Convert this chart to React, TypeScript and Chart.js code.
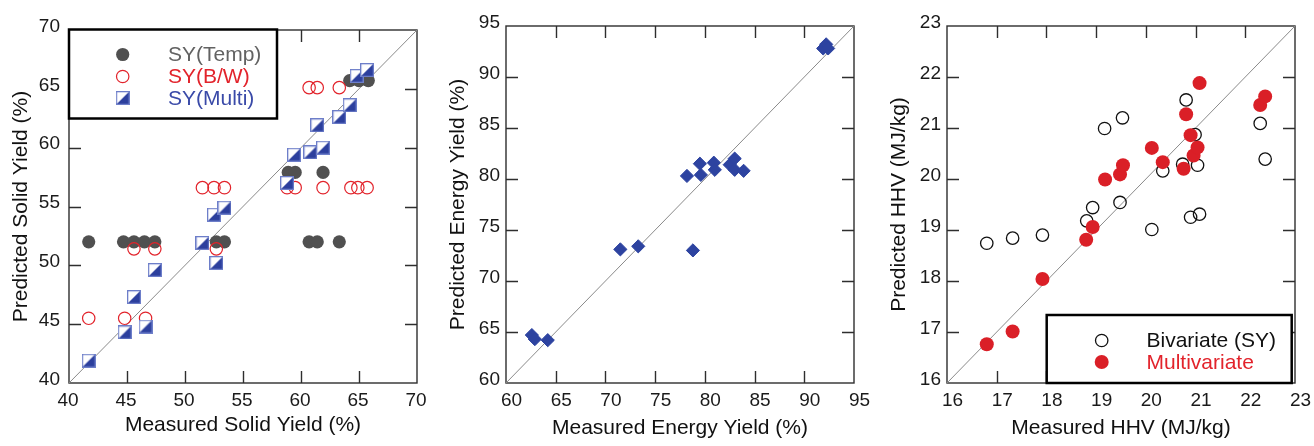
import { useEffect, useRef } from "react";
import { Chart, registerables } from "chart.js";

Chart.register(...registerables);

const FONT = "'Liberation Sans', Arial, Helvetica, sans-serif";

// Solid yield (%): measured vs predicted, three prediction models
const syTempMeasured = [41.7, 44.7, 45.6, 46.5, 47.4, 52.7, 53.4, 58.9, 59.5, 61.9, 60.7, 61.4, 63.3, 64.2, 65.0, 65.8];
const syTempPredicted = [52.0, 52.0, 52.0, 52.0, 52.0, 52.0, 52.0, 57.9, 57.9, 57.9, 52.0, 52.0, 52.0, 65.7, 65.7, 65.7];

const syBWMeasured = [41.7, 44.8, 46.6, 45.6, 47.4, 52.7, 51.5, 52.5, 53.4, 58.8, 59.5, 61.9, 64.3, 64.9, 65.7, 60.7, 61.4, 63.3];
const syBWPredicted = [45.5, 45.5, 45.5, 51.4, 51.4, 51.4, 56.6, 56.6, 56.6, 56.6, 56.6, 56.6, 56.6, 56.6, 56.6, 65.1, 65.1, 65.1];

const syMultiMeasured = [41.7, 44.8, 46.6, 45.6, 47.4, 51.5, 52.5, 53.4, 52.7, 58.8, 59.4, 60.8, 61.9, 61.4, 63.3, 64.2, 64.8, 65.7];
const syMultiPredicted = [41.9, 44.3, 44.8, 47.3, 49.6, 51.9, 54.3, 54.9, 50.2, 57.0, 59.4, 59.6, 60.0, 61.9, 62.6, 63.6, 66.1, 66.6];

// Energy yield (%)
const eyMeasured = [62.6, 62.9, 64.2, 71.5, 73.3, 78.8, 78.2, 79.5, 79.6, 80.9, 81.0, 82.5, 83.0, 83.0, 83.9, 91.9, 92.2, 92.4];
const eyPredicted = [64.7, 64.3, 64.2, 73.1, 73.4, 73.0, 80.3, 81.5, 80.4, 81.6, 80.9, 81.4, 82.0, 80.9, 80.8, 92.8, 93.2, 92.8];

// HHV (MJ/kg)
const hhvBivMeasured = [16.8, 17.32, 17.92, 18.81, 18.93, 19.17, 19.53, 19.48, 20.12, 20.34, 20.81, 20.74, 20.99, 21.04, 20.9, 21.08, 22.3, 22.4];
const hhvBivPredicted = [18.74, 18.84, 18.9, 19.18, 19.44, 20.99, 21.2, 19.54, 19.01, 20.16, 21.55, 20.29, 20.87, 20.27, 19.25, 19.31, 21.09, 20.39];

const hhvMultiMeasured = [16.8, 17.32, 17.92, 18.8, 18.93, 19.18, 19.48, 19.54, 20.12, 20.34, 20.76, 20.81, 20.9, 20.96, 21.04, 21.08, 22.3, 22.4];
const hhvMultiPredicted = [16.76, 17.01, 18.04, 18.81, 19.06, 19.99, 20.09, 20.27, 20.61, 20.33, 20.2, 21.27, 20.86, 20.46, 20.62, 21.88, 21.45, 21.62];

// Axis ranges [min, max] and tick step
const syAxis = [40, 70];
const syStep = 5;
const eyAxis = [60, 95];
const eyStep = 5;
const hhvAxis = [16, 23];
const hhvStep = 1;

const GREY = "#505050";
const RED = "#e2232b";
const RED_FILL = "#da1f27";
const BLUE = "#2c3f9d";
const BLUE_EDGE = "#6d7ec9";
const LEGEND_GREY = "#626262";
const LEGEND_BLUE = "#3a4aa8";

const zip = (xs: number[], ys: number[]) => xs.map((x, i) => ({ x, y: ys[i] }));

let squareMarker: HTMLCanvasElement | null = null;
function halfSquare(): HTMLCanvasElement {
  if (squareMarker) return squareMarker;
  const s = 14;
  const c = document.createElement("canvas");
  c.width = s;
  c.height = s;
  const g = c.getContext("2d")!;
  g.fillStyle = "#ffffff";
  g.fillRect(0, 0, s, s);
  g.fillStyle = BLUE;
  g.beginPath();
  g.moveTo(0.5, s - 0.5);
  g.lineTo(s - 0.5, 0.5);
  g.lineTo(s - 0.5, s - 0.5);
  g.closePath();
  g.fill();
  g.strokeStyle = BLUE_EDGE;
  g.lineWidth = 1.3;
  g.strokeRect(0.65, 0.65, s - 1.3, s - 1.3);
  squareMarker = c;
  return c;
}

function diagonal(axis: number[]) {
  return {
    label: "1:1",
    data: [
      { x: axis[0], y: axis[0] },
      { x: axis[1], y: axis[1] },
    ],
    showLine: true,
    borderColor: "#8a8a8a",
    borderWidth: 1,
    pointRadius: 0,
    order: 10,
  };
}

type Marker = (ctx: CanvasRenderingContext2D, x: number, y: number) => void;

const dotMarker = (color: string, r: number): Marker => (ctx, x, y) => {
  ctx.beginPath();
  ctx.arc(x, y, r, 0, Math.PI * 2);
  ctx.fillStyle = color;
  ctx.fill();
};
const ringMarker = (color: string, r: number, w: number): Marker => (ctx, x, y) => {
  ctx.beginPath();
  ctx.arc(x, y, r, 0, Math.PI * 2);
  ctx.strokeStyle = color;
  ctx.lineWidth = w;
  ctx.stroke();
};
const squareLegendMarker: Marker = (ctx, x, y) => {
  const img = halfSquare();
  ctx.drawImage(img, x - img.width / 2, y - img.height / 2);
};

interface LegendSpec {
  box: [number, number, number, number];
  markerX: number;
  textX: number;
  rows: number[];
  items: { label: string; color: string; marker: Marker }[];
}

interface PanelSpec {
  left: number;
  width: number;
  axis: number[];
  step: number;
  xTitle: string;
  yTitle: string;
  yAxisWidth: number;
  padTop: number;
  padRight: number;
  yTickPad: number;
  xLabelShift: number;
  yTitlePad: number;
  xTitlePad: number;
  datasets: () => any[];
  legend?: LegendSpec;
}

const frameTicks = {
  id: "frameTicks",
  beforeDatasetsDraw(chart: any) {
    const { ctx, chartArea } = chart;
    const { left, right, top, bottom } = chartArea;
    const xs = chart.scales.x;
    const ys = chart.scales.y;
    const len = 12;
    ctx.save();
    ctx.strokeStyle = "#2e2e2e";
    ctx.lineWidth = 1.4;
    ctx.beginPath();
    xs.ticks.forEach((t: any) => {
      if (t.value <= xs.min || t.value >= xs.max) return;
      const px = Math.round(xs.getPixelForValue(t.value)) + 0.5;
      ctx.moveTo(px, bottom);
      ctx.lineTo(px, bottom - len);
      ctx.moveTo(px, top);
      ctx.lineTo(px, top + len);
    });
    ys.ticks.forEach((t: any) => {
      if (t.value <= ys.min || t.value >= ys.max) return;
      const py = Math.round(ys.getPixelForValue(t.value)) + 0.5;
      ctx.moveTo(left, py);
      ctx.lineTo(left + len, py);
      ctx.moveTo(right, py);
      ctx.lineTo(right - len, py);
    });
    ctx.stroke();
    ctx.strokeRect(left, top, right - left, bottom - top);
    ctx.restore();
  },
};

function legendBox(spec?: LegendSpec) {
  return {
    id: "legendBox",
    afterDraw(chart: any) {
      if (!spec) return;
      const { ctx } = chart;
      const [bx, by, bw, bh] = spec.box;
      ctx.save();
      ctx.fillStyle = "#ffffff";
      ctx.fillRect(bx, by, bw, bh);
      ctx.strokeStyle = "#000000";
      ctx.lineWidth = 2.5;
      ctx.strokeRect(bx, by, bw, bh);
      ctx.font = `21px ${FONT}`;
      ctx.textBaseline = "middle";
      ctx.textAlign = "left";
      spec.items.forEach((item, i) => {
        const y = spec.rows[i];
        item.marker(ctx, spec.markerX, y);
        ctx.fillStyle = item.color;
        ctx.fillText(item.label, spec.textX, y + 1);
      });
      ctx.restore();
    },
  };
}

const panels: PanelSpec[] = [
  {
    left: 0,
    width: 440,
    axis: syAxis,
    step: syStep,
    xTitle: "Measured Solid Yield (%)",
    yTitle: "Predicted Solid Yield (%)",
    yAxisWidth: 69,
    padTop: 30,
    padRight: 23,
    yTickPad: 9,
    xLabelShift: -1,
    yTitlePad: 9,
    xTitlePad: 8,
    datasets: () => [
      {
        label: "SY(Temp)",
        data: zip(syTempMeasured, syTempPredicted),
        pointStyle: "circle",
        pointRadius: 6.6,
        backgroundColor: GREY,
        borderColor: GREY,
        borderWidth: 0,
        order: 3,
      },
      {
        label: "SY(B/W)",
        data: zip(syBWMeasured, syBWPredicted),
        pointStyle: "circle",
        pointRadius: 6.2,
        backgroundColor: "rgba(0,0,0,0)",
        borderColor: RED,
        borderWidth: 1.2,
        order: 2,
      },
      {
        label: "SY(Multi)",
        data: zip(syMultiMeasured, syMultiPredicted),
        pointStyle: halfSquare(),
        pointRadius: 6,
        order: 1,
      },
      diagonal(syAxis),
    ],
    legend: {
      box: [69, 29.5, 208, 89],
      markerX: 122.7,
      textX: 168,
      rows: [54.5, 76.5, 98],
      items: [
        { label: "SY(Temp)", color: LEGEND_GREY, marker: dotMarker(GREY, 6.6) },
        { label: "SY(B/W)", color: RED, marker: ringMarker(RED, 6.2, 1.2) },
        { label: "SY(Multi)", color: LEGEND_BLUE, marker: squareLegendMarker },
      ],
    },
  },
  {
    left: 440,
    width: 440,
    axis: eyAxis,
    step: eyStep,
    xTitle: "Measured Energy Yield (%)",
    yTitle: "Predicted Energy Yield (%)",
    yAxisWidth: 66,
    padTop: 26,
    padRight: 26,
    yTickPad: 6,
    xLabelShift: 5.5,
    yTitlePad: 6,
    xTitlePad: 5.5,
    datasets: () => [
      {
        label: "Energy yield",
        data: zip(eyMeasured, eyPredicted),
        pointStyle: "rectRot",
        pointRadius: 6.6,
        backgroundColor: "#2d43a0",
        borderColor: "#2d43a0",
        borderWidth: 1,
        order: 1,
      },
      diagonal(eyAxis),
    ],
  },
  {
    left: 880,
    width: 434,
    axis: hhvAxis,
    step: hhvStep,
    xTitle: "Measured HHV (MJ/kg)",
    yTitle: "Predicted HHV (MJ/kg)",
    yAxisWidth: 67,
    padTop: 26,
    padRight: 19,
    yTickPad: 6,
    xLabelShift: 5.5,
    yTitlePad: 6.5,
    xTitlePad: 5.5,
    datasets: () => [
      {
        label: "Bivariate (SY)",
        data: zip(hhvBivMeasured, hhvBivPredicted),
        pointStyle: "circle",
        pointRadius: 6.2,
        backgroundColor: "rgba(0,0,0,0)",
        borderColor: "#111111",
        borderWidth: 1.3,
        order: 2,
      },
      {
        label: "Multivariate",
        data: zip(hhvMultiMeasured, hhvMultiPredicted),
        pointStyle: "circle",
        pointRadius: 7,
        backgroundColor: RED_FILL,
        borderColor: RED_FILL,
        borderWidth: 0,
        order: 1,
      },
      diagonal(hhvAxis),
    ],
    legend: {
      box: [166.7, 315, 245, 68],
      markerX: 221.7,
      textX: 266.5,
      rows: [340.5, 362],
      items: [
        { label: "Bivariate (SY)", color: "#111111", marker: ringMarker("#111111", 6.2, 1.3) },
        { label: "Multivariate", color: RED, marker: dotMarker(RED_FILL, 7) },
      ],
    },
  },
];

function Panel({ spec }: { spec: PanelSpec }) {
  const ref = useRef<HTMLCanvasElement>(null);
  useEffect(() => {
    const canvas = ref.current;
    if (!canvas) return;
    const tickFont = { family: FONT, size: 19 };
    const titleFont = { family: FONT, size: 21 };
    const chart = new Chart(canvas, {
      type: "scatter",
      data: { datasets: spec.datasets() },
      options: {
        animation: false,
        responsive: false,
        events: [],
        layout: { padding: { top: spec.padTop, right: spec.padRight, left: 0, bottom: 0 } },
        plugins: { legend: { display: false }, tooltip: { enabled: false } },
        scales: {
          x: {
            type: "linear",
            min: spec.axis[0],
            max: spec.axis[1],
            ticks: {
              stepSize: spec.step,
              font: tickFont,
              color: "#1a1a1a",
              padding: 6,
              maxRotation: 0,
              autoSkip: false,
              labelOffset: spec.xLabelShift,
            },
            grid: { display: false, drawTicks: false, tickLength: 0 },
            border: { display: false },
            title: {
              display: true,
              text: spec.xTitle,
              font: titleFont,
              color: "#111111",
              padding: { top: 0, bottom: spec.xTitlePad },
            },
            afterFit: (s: any) => {
              s.height = 63;
            },
          },
          y: {
            type: "linear",
            min: spec.axis[0],
            max: spec.axis[1],
            ticks: {
              stepSize: spec.step,
              font: tickFont,
              color: "#1a1a1a",
              padding: spec.yTickPad,
              autoSkip: false,
              labelOffset: -3.5,
            },
            grid: { display: false, drawTicks: false, tickLength: 0 },
            border: { display: false },
            title: {
              display: true,
              text: spec.yTitle,
              font: titleFont,
              color: "#111111",
              padding: { top: spec.yTitlePad, bottom: 0 },
            },
            afterFit: (s: any) => {
              s.width = spec.yAxisWidth;
            },
          },
        },
      } as any,
      plugins: [frameTicks, legendBox(spec.legend)],
    });
    return () => chart.destroy();
  }, [spec]);
  return (
    <canvas
      ref={ref}
      width={spec.width}
      height={446}
      style={{ position: "absolute", left: spec.left, top: 0, width: spec.width, height: 446 }}
    />
  );
}

export default function App() {
  return (
    <div
      style={{
        position: "absolute",
        left: 0,
        top: 0,
        width: 1314,
        height: 446,
        background: "#ffffff",
        overflow: "hidden",
      }}
    >
      {panels.map((p) => (
        <Panel key={p.left} spec={p} />
      ))}
    </div>
  );
}
